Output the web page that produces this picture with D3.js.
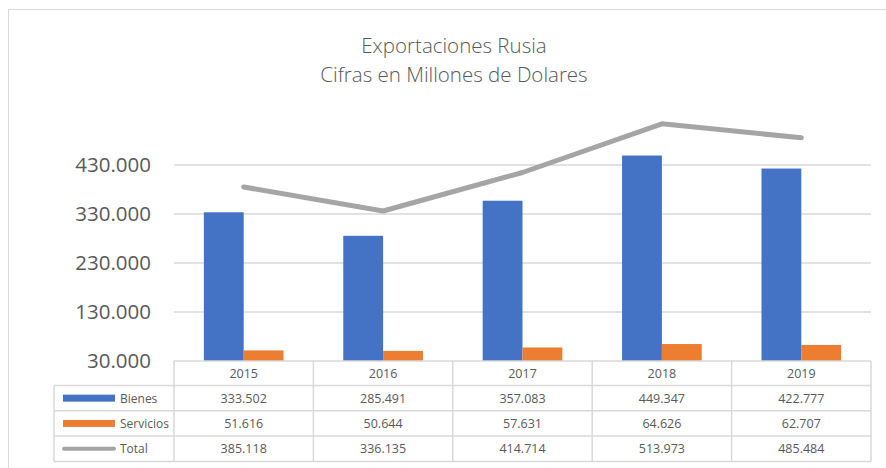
<!DOCTYPE html>
<html>
<head>
<meta charset="utf-8">
<script src="https://cdnjs.cloudflare.com/ajax/libs/d3/7.8.5/d3.min.js"></script>
<style>
  body { margin: 0; background: #fff; }
  svg text { font-family: "Open Sans", sans-serif; fill: #595959; }
</style>
</head>
<body>
<div id="chart"></div>
<script>
// data
var years = ["2015", "2016", "2017", "2018", "2019"];
var bienes = [333502, 285491, 357083, 449347, 422777];
var servicios = [51616, 50644, 57631, 64626, 62707];
var total = [385118, 336135, 414714, 513973, 485484];
var yTicks = [30000, 130000, 230000, 330000, 430000];
var titleLines = ["Exportaciones Rusia", "Cifras en Millones de Dolares"];

var W = 886, H = 468;
var plot = { left: 174, right: 871, top: 116, bottom: 361 };
var rowH = 25.3;

var loc = d3.formatLocale({ decimal: ",", thousands: ".", grouping: [3], currency: ["$", ""] });
var fmt = loc.format(",.0f");

var svg = d3.select("#chart").append("svg")
  .attr("width", W).attr("height", H);

// chart frame
svg.append("rect")
  .attr("x", 8.5).attr("y", 9.5)
  .attr("width", W + 10).attr("height", H)
  .attr("fill", "#fff").attr("stroke", "#d9d9d9");

// title
svg.selectAll(".title").data(titleLines).enter().append("text")
  .attr("class", "title")
  .attr("x", 454).attr("y", function(d, i) { return 53 + i * 29; })
  .attr("text-anchor", "middle")
  .style("font-size", "20.5px")
  .style("font-weight", 300)
  .text(function(d) { return d; });

var x = d3.scaleBand().domain(years).range([plot.left, plot.right]);
var y = d3.scaleLinear().domain([30000, 530000]).range([plot.bottom, plot.bottom - 245]);
var xs = d3.scaleBand().domain(["b", "s"]).range([0, x.bandwidth()]).paddingOuter(0.75);

// gridlines
svg.selectAll(".grid").data(yTicks.slice(1)).enter().append("line")
  .attr("x1", plot.left).attr("x2", plot.right)
  .attr("y1", function(d) { return y(d); }).attr("y2", function(d) { return y(d); })
  .attr("stroke", "#d9d9d9").attr("stroke-width", 1.5);

// y axis labels
var yAxis = svg.append("g")
  .attr("transform", "translate(" + (plot.left - 10) + ",0)")
  .call(d3.axisLeft(y).tickValues(yTicks).tickFormat(fmt).tickSize(0).tickPadding(13));
yAxis.select(".domain").remove();
yAxis.selectAll("text")
  .style("font-size", "20.5px")
  .style("font-family", "'Open Sans', sans-serif")
  .attr("fill", "#595959");

// bars
var g = svg.append("g");
g.selectAll(".bienes").data(years).enter().append("rect")
  .attr("x", function(d) { return x(d) + xs("b"); })
  .attr("width", xs.bandwidth())
  .attr("y", function(d, i) { return y(bienes[i]); })
  .attr("height", function(d, i) { return y(30000) - y(bienes[i]); })
  .attr("fill", "#4472C4");
g.selectAll(".serv").data(years).enter().append("rect")
  .attr("x", function(d) { return x(d) + xs("s"); })
  .attr("width", xs.bandwidth())
  .attr("y", function(d, i) { return y(servicios[i]); })
  .attr("height", function(d, i) { return y(30000) - y(servicios[i]); })
  .attr("fill", "#ED7D31");

// total line
var line = d3.line()
  .x(function(d, i) { return x(years[i]) + x.bandwidth() / 2; })
  .y(function(d) { return y(d); });
svg.append("path").datum(total)
  .attr("d", line)
  .attr("fill", "none").attr("stroke", "#A5A5A5")
  .attr("stroke-width", 5).attr("stroke-linecap", "round").attr("stroke-linejoin", "round");

// data table
var tbl = svg.append("g").attr("stroke", "#d9d9d9").attr("stroke-width", 1.5);
var legX = 54;
var rowsY = [plot.bottom, plot.bottom + 24.5, plot.bottom + 24.5 + rowH, plot.bottom + 24.5 + 2 * rowH, plot.bottom + 24.5 + 3 * rowH];
// horizontal lines
tbl.append("line").attr("x1", plot.left).attr("x2", plot.right).attr("y1", rowsY[0]).attr("y2", rowsY[0]);
rowsY.slice(1).forEach(function(ry) {
  tbl.append("line").attr("x1", legX).attr("x2", plot.right).attr("y1", ry).attr("y2", ry);
});
// vertical lines
tbl.append("line").attr("x1", legX).attr("x2", legX).attr("y1", rowsY[1]).attr("y2", rowsY[4]);
years.concat(["end"]).forEach(function(d) {
  var vx = d === "end" ? plot.right : x(d);
  tbl.append("line").attr("x1", vx).attr("x2", vx).attr("y1", rowsY[0]).attr("y2", rowsY[4]);
});

// header years
svg.selectAll(".yr").data(years).enter().append("text")
  .attr("x", function(d) { return x(d) + x.bandwidth() / 2; })
  .attr("y", (rowsY[0] + rowsY[1]) / 2 + 4.5)
  .attr("text-anchor", "middle").style("font-size", "12.5px")
  .text(function(d) { return d; });

var series = [
  { name: "Bienes", values: bienes, color: "#4472C4", type: "bar" },
  { name: "Servicios", values: servicios, color: "#ED7D31", type: "bar" },
  { name: "Total", values: total, color: "#A5A5A5", type: "line" }
];
series.forEach(function(s, r) {
  var cy = (rowsY[r + 1] + rowsY[r + 2]) / 2;
  if (s.type === "bar") {
    svg.append("rect").attr("x", 63).attr("y", cy - 3.5).attr("width", 52).attr("height", 7).attr("fill", s.color);
  } else {
    svg.append("line").attr("x1", 64).attr("x2", 114).attr("y1", cy).attr("y2", cy)
      .attr("stroke", s.color).attr("stroke-width", 4).attr("stroke-linecap", "round");
  }
  svg.append("text").attr("x", 120).attr("y", cy + 4.5)
    .style("font-size", "12px").text(s.name);
  svg.selectAll(".v" + r).data(s.values).enter().append("text")
    .attr("x", function(d, i) { return x(years[i]) + x.bandwidth() / 2; })
    .attr("y", cy + 4.5)
    .attr("text-anchor", "middle").style("font-size", "12.5px")
    .text(function(d) { return fmt(d); });
});
</script>
</body>
</html>
